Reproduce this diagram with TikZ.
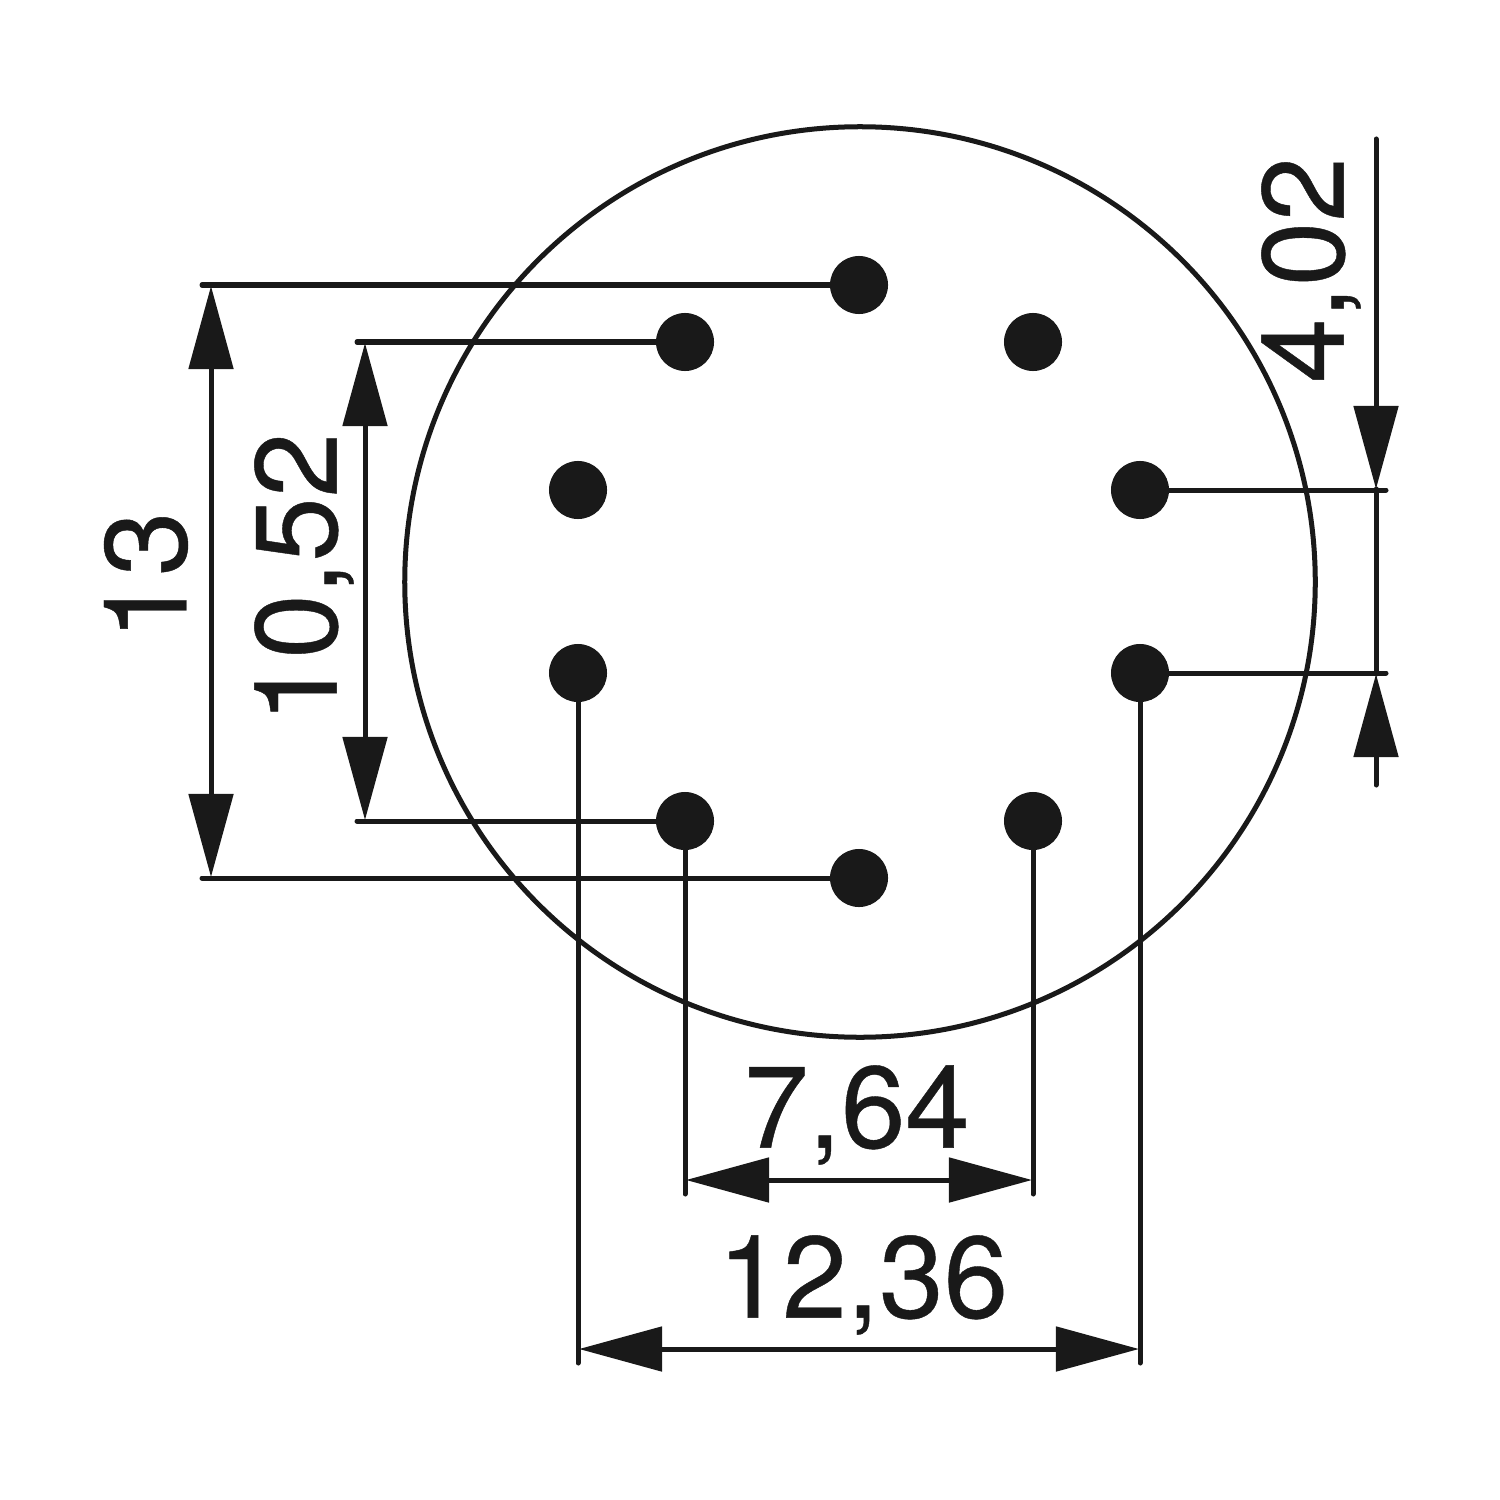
\documentclass[tikz,border=0pt]{standalone}
\usepackage{fontspec}
\setmainfont[FakeBold=0.35]{TeX Gyre Heros}
\usetikzlibrary{arrows.meta}
\tikzset{
  ln/.style={line width=0.05cm,draw=black!90!white,line cap=round},
  dot/.style={circle,fill=black!90!white,draw=none,minimum size=0.58cm,inner sep=0pt},
  dim/.style={ln,{Triangle[length=0.83cm,width=0.44cm]}-{Triangle[length=0.83cm,width=0.44cm]}},
  tip/.style={ln,-{Triangle[length=0.83cm,width=0.44cm]}},
  lab/.style={inner sep=0pt,font=\fontsize{33pt}{33pt}\selectfont,text=black!90!white},
}
\begin{document}
\begin{tikzpicture}[x=0.01cm,y=-0.01cm]
\useasboundingbox[fill=white] (0,0) rectangle (1500,1500);
\node[circle,draw=black!90!white,line width=0.05cm,minimum size=9.1cm,inner sep=0pt] (body) at (860,582) {};
\node[dot] (t) at (859,285) {};
\node[dot] (tl) at (685,342) {};
\node[dot] (tr) at (1033,342) {};
\node[dot] (ul) at (578,490) {};
\node[dot] (ur) at (1140,490) {};
\node[dot] (ll) at (578,673) {};
\node[dot] (lr) at (1140,673) {};
\node[dot] (bl) at (685,821) {};
\node[dot] (br) at (1033,821) {};
\node[dot] (b) at (859,878) {};
% extension ends
\coordinate (e13t) at (202,285);
\coordinate (e13b) at (202,878);
\coordinate (e10t) at (357,342);
\coordinate (e10b) at (357,821);
\coordinate (e4t) at (1386,490);
\coordinate (e4b) at (1386,673);
\coordinate (e7l) at (685,1194);
\coordinate (e7r) at (1033,1194);
\coordinate (e12l) at (578,1363);
\coordinate (e12r) at (1140,1363);
\draw[ln] (t.center) -- (e13t);
\draw[ln] (b.center) -- (e13b);
\draw[ln] (tl.center) -- (e10t);
\draw[ln] (bl.center) -- (e10b);
\draw[ln] (ur.center) -- (e4t);
\draw[ln] (lr.center) -- (e4b);
\draw[ln] (bl.center) -- (e7l);
\draw[ln] (br.center) -- (e7r);
\draw[ln] (ll.center) -- (e12l);
\draw[ln] (lr.center) -- (e12r);
% dimension lines
\coordinate (d13t) at (211,286);
\coordinate (d13b) at (211,877);
\coordinate (d10t) at (365,343);
\coordinate (d10b) at (365,820);
\coordinate (d7l) at (686,1180);
\coordinate (d7r) at (1032,1180);
\coordinate (d12l) at (579,1349);
\coordinate (d12r) at (1139,1349);
\coordinate (d4a) at (1376,139);
\coordinate (d4b) at (1376,489);
\coordinate (d4c) at (1376,785);
\coordinate (d4d) at (1376,674);
\draw[dim] (d13t) -- (d13b);
\draw[dim] (d10t) -- (d10b);
\draw[dim] (d7l) -- (d7r);
\draw[dim] (d12l) -- (d12r);
\draw[tip] (d4a) -- (d4b);
\draw[tip] (d4c) -- (d4d);
\draw[ln] (d4b) -- (d4d);
% labels
\node[lab,rotate=90] (l13) at (146,576) {13};
\node[lab,rotate=90] (l10) at (304,578) {10,52};
\node[lab,rotate=90] (l4) at (1311,270) {4,02};
\node[lab] (l7) at (857,1115) {7,64};
\node[lab] (l12) at (863,1285) {12,36};
\end{tikzpicture}
\end{document}
